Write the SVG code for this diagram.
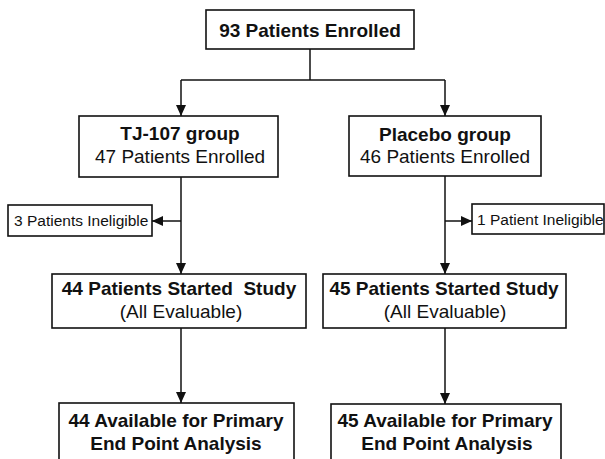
<svg xmlns="http://www.w3.org/2000/svg" width="605" height="459" viewBox="0 0 605 459">
<style>
.box{fill:#fff;stroke:#111;stroke-width:1.6}
.t{font-family:"Liberation Sans",Arial,sans-serif;font-size:19px;fill:#111;text-anchor:middle}
.b{font-weight:bold}
.s{font-family:"Liberation Sans",Arial,sans-serif;font-size:15.5px;fill:#111}
.ln{fill:none;stroke:#111;stroke-width:1.5}
</style>
<defs>
<marker id="ah" markerUnits="userSpaceOnUse" markerWidth="11" markerHeight="10" refX="11" refY="5" orient="auto">
<path d="M0,0 L11,5 L0,10 z" fill="#111"/>
</marker>
</defs>
<rect width="605" height="459" fill="#fff"/>
<g id="connectors">
<path class="ln" d="M310,49 V80"/>
<path class="ln" d="M181,80 H445"/>
<path class="ln" d="M181,80 V116" marker-end="url(#ah)"/>
<path class="ln" d="M445,80 V116" marker-end="url(#ah)"/>
<path class="ln" d="M181,177 V274" marker-end="url(#ah)"/>
<path class="ln" d="M181,221 H152" marker-end="url(#ah)"/>
<path class="ln" d="M445,176 V274" marker-end="url(#ah)"/>
<path class="ln" d="M445,221 H472" marker-end="url(#ah)"/>
<path class="ln" d="M181,328 V403" marker-end="url(#ah)"/>
<path class="ln" d="M445,328 V404" marker-end="url(#ah)"/>
</g>
<g id="enrolled">
<rect class="box" x="206" y="10" width="208" height="39"/>
<text class="t b" x="310" y="37">93 Patients Enrolled</text>
</g>
<g id="tj107">
<rect class="box" x="79" y="116" width="199" height="61"/>
<text class="t b" x="180" y="140">TJ-107 group</text>
<text class="t" x="180" y="163">47 Patients Enrolled</text>
</g>
<g id="placebo">
<rect class="box" x="349" y="116" width="192" height="60"/>
<text class="t b" x="445" y="141">Placebo group</text>
<text class="t" x="445" y="163">46 Patients Enrolled</text>
</g>
<g id="inelig-left">
<rect class="box" x="8" y="205" width="144" height="31"/>
<text class="s" x="14" y="226">3 Patients Ineligible</text>
</g>
<g id="inelig-right">
<rect class="box" x="472" y="204" width="132" height="30"/>
<text class="s" x="477" y="225">1 Patient Ineligible</text>
</g>
<g id="started-left">
<rect class="box" x="52" y="274" width="254" height="54"/>
<text class="t b" x="179" y="295" style="white-space:pre">44 Patients Started  Study</text>
<text class="t" x="181" y="318">(All Evaluable)</text>
</g>
<g id="started-right">
<rect class="box" x="323" y="274" width="243" height="54"/>
<text class="t b" x="444" y="295">45 Patients Started Study</text>
<text class="t" x="445" y="318">(All Evaluable)</text>
</g>
<g id="avail-left">
<rect class="box" x="59" y="403" width="235" height="62"/>
<text class="t b" x="176" y="427">44 Available for Primary</text>
<text class="t b" x="176" y="450">End Point Analysis</text>
</g>
<g id="avail-right">
<rect class="box" x="331" y="404" width="230" height="62"/>
<text class="t b" x="445" y="427">45 Available for Primary</text>
<text class="t b" x="447" y="450">End Point Analysis</text>
</g>
</svg>
